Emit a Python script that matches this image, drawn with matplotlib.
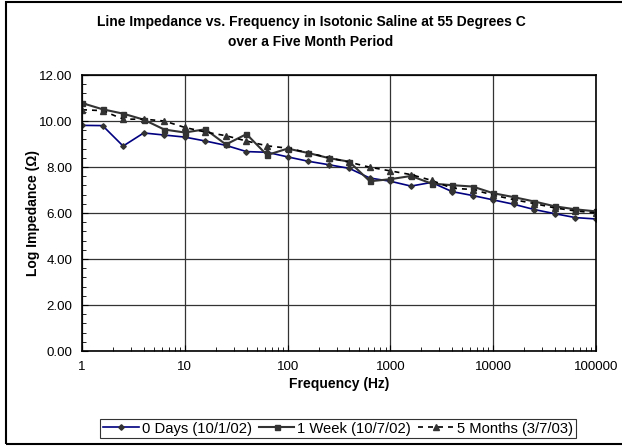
import matplotlib
matplotlib.use('Agg')
import matplotlib.pyplot as plt
from matplotlib.patches import Rectangle
from matplotlib.ticker import MultipleLocator, FixedLocator, LogLocator, NullFormatter

plt.rcParams['font.family'] = ['Liberation Sans', 'DejaVu Sans']

# 频率 (Hz) 每十倍频程5个点
freq = [1, 1.585, 2.512, 3.981, 6.310,
        10, 15.85, 25.12, 39.81, 63.10,
        100, 158.5, 251.2, 398.1, 631.0,
        1000, 1585, 2512, 3981, 6310,
        10000, 15849, 25119, 39811, 63096, 100000]

days0 = [9.81, 9.80, 8.91, 9.48, 9.39,
         9.30, 9.13, 8.94, 8.67, 8.64,
         8.44, 8.25, 8.10, 7.94, 7.52,
         7.38, 7.17, 7.33, 6.93, 6.76,
         6.57, 6.38, 6.15, 5.97, 5.80, 5.74]

week1 = [10.78, 10.51, 10.32, 10.06, 9.63,
         9.50, 9.64, 8.98, 9.43, 8.52,
         8.80, 8.61, 8.39, 8.23, 7.38,
         7.47, 7.61, 7.28, 7.21, 7.15,
         6.86, 6.69, 6.50, 6.29, 6.16, 6.07]

months5 = [10.49, 10.45, 10.08, 10.08, 10.00,
           9.72, 9.52, 9.36, 9.13, 8.92,
           8.82, 8.62, 8.40, 8.21, 7.99,
           7.83, 7.67, 7.42, 7.08, 7.02,
           6.78, 6.58, 6.41, 6.22, 6.09, 6.00]

labels = ['0 Days (10/1/02)', '1 Week (10/7/02)', '5 Months (3/7/03)']

fig = plt.figure(figsize=(6.22, 4.46), dpi=100)
ax = fig.add_axes([82/622, 1-351/446, (596-82)/622, (351-75)/446])

# 外框
fig.patches.append(Rectangle((6/622, 2/446), 1.0, 1-4/446, transform=fig.transFigure,
                             fill=False, edgecolor='black', linewidth=1.5))

ax.plot(freq, days0, color='#000080', linewidth=1.2, marker='D', markersize=2.8,
        markerfacecolor='#333333', markeredgecolor='#333333', label=labels[0])
ax.plot(freq, week1, color='#333333', linewidth=1.5, marker='s', markersize=3.6,
        markerfacecolor='#333333', markeredgecolor='#333333', label=labels[1])
ax.plot(freq, months5, color='black', linewidth=1.2, linestyle=(0, (3, 3)), marker='^',
        markersize=3.8, markerfacecolor='#333333', markeredgecolor='#333333', label=labels[2])

ax.set_xscale('log')
ax.set_xlim(1, 100000)
ax.set_ylim(0, 12)
ax.xaxis.set_major_locator(FixedLocator([1, 10, 100, 1000, 10000, 100000]))
ax.set_xticklabels(['1', '10', '100', '1000', '10000', '100000'])
ax.xaxis.set_minor_locator(LogLocator(base=10, subs=range(2, 10)))
ax.xaxis.set_minor_formatter(NullFormatter())
ax.yaxis.set_major_locator(MultipleLocator(2))
ax.yaxis.set_minor_locator(MultipleLocator(0.4))
ax.yaxis.set_major_formatter(plt.FuncFormatter(lambda v, p: '%.2f' % v))

ax.grid(True, which='major', color='#333333', linewidth=0.9)
ax.set_axisbelow(True)
ax.tick_params(which='both', direction='in', labelsize=9.6)
ax.tick_params(which='major', length=4)
ax.tick_params(which='minor', length=3)
ax.tick_params(axis='x', pad=7)
ax.tick_params(axis='y', pad=7)
for s in ax.spines.values():
    s.set_linewidth(1.2)
    s.set_color('black')

ax.set_xlabel('Frequency (Hz)', fontsize=10, fontweight='bold', labelpad=3)
ax.set_ylabel('Log Impedance (Ω)', fontsize=10, fontweight='bold')
ax.yaxis.set_label_coords((40 - 82) / 514, 0.5)
fig.text(311/622, 1-32/446, 'Line Impedance vs. Frequency in Isotonic Saline at 55 Degrees C\nover a Five Month Period',
         ha='center', va='center', fontsize=10, fontweight='bold', linespacing=1.5)

leg = fig.legend(loc='center', bbox_to_anchor=(338/622, 1-428.5/446), ncol=3, fontsize=10.6,
                 frameon=True, fancybox=False, edgecolor='black', handlelength=2.4,
                 columnspacing=0.5, handletextpad=0.2, borderpad=0.2, borderaxespad=0)
leg.get_frame().set_linewidth(0.8)

fig.savefig('out.png', dpi=100)
